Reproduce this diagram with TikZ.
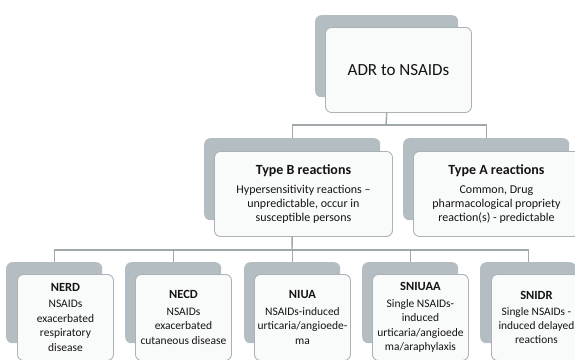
\documentclass[tikz,border=0pt]{standalone}
\usepackage{fontspec}
\setmainfont{Carlito}
\definecolor{gbox}{RGB}{180,189,193}
\definecolor{wfill}{RGB}{249,250,250}
\definecolor{wdraw}{RGB}{170,178,182}
\definecolor{conncol}{RGB}{160,168,172}
\definecolor{txt}{RGB}{20,20,20}
\begin{document}
\begin{tikzpicture}[x=1pt,y=-1pt,
  greybox/.style={fill=gbox, draw=none, rounded corners=6pt, anchor=north west, inner sep=0pt},
  whitebox/.style={fill=wfill, draw=wdraw, line width=0.9pt, rounded corners=6pt, anchor=north west, inner sep=0pt, align=center, text=txt},
  conn/.style={draw=conncol, line width=1.4pt},
  bodysz/.style={font=\fontsize{12}{14}\selectfont},
  smallsz/.style={font=\fontsize{11.5}{14.5}\selectfont}
]
\useasboundingbox (0,0) rectangle (575,359);
% top
\node[greybox, minimum width=143pt, minimum height=82pt] (topg) at (315,15) {};
\node[whitebox, minimum width=146pt, minimum height=85pt, font=\fontsize{17}{20}\selectfont] (topw) at (325,27) {ADR to NSAIDs};
% level 2
\node[greybox, minimum width=176pt, minimum height=82pt] (tbg) at (204,138) {};
\node[whitebox, minimum width=178pt, minimum height=85pt, bodysz] (tbw) at (214,151)
  {{\fontsize{14}{16}\selectfont\bfseries Type B reactions}\\[5pt]Hypersensitivity reactions –\\unpredictable, occur in\\susceptible persons};
\node[greybox, minimum width=166pt, minimum height=82pt] (tag) at (403,138) {};
\node[whitebox, minimum width=166pt, minimum height=85pt, bodysz] (taw) at (413,151)
  {{\fontsize{14}{16}\selectfont\bfseries Type A reactions}\\[5pt]Common, Drug\\pharmacological propriety\\reaction(s) - predictable};
% level 3
\node[greybox, minimum width=96pt, minimum height=81pt] (nerdg) at (6,262) {};
\node[whitebox, minimum width=96pt, minimum height=86pt, smallsz] (nerdw) at (17,274)
  {{\fontsize{12.5}{15}\selectfont\bfseries NERD}\\[2pt]NSAIDs\\exacerbated\\respiratory\\disease};
\node[greybox, minimum width=96pt, minimum height=81pt] (necdg) at (125,262) {};
\node[whitebox, minimum width=96pt, minimum height=86pt, smallsz] (necdw) at (135,274)
  {{\fontsize{12.5}{15}\selectfont\bfseries NECD}\\[2pt]NSAIDs\\exacerbated\\cutaneous disease};
\node[greybox, minimum width=96pt, minimum height=81pt] (niuag) at (244,262) {};
\node[whitebox, minimum width=96pt, minimum height=86pt, smallsz] (niuaw) at (254,274)
  {{\fontsize{12.5}{15}\selectfont\bfseries NIUA}\\[2pt]NSAIDs-induced\\urticaria/angioede-\\ma};
\node[greybox, minimum width=96pt, minimum height=81pt] (sniuaag) at (362,262) {};
\node[whitebox, minimum width=96pt, minimum height=86pt, smallsz] (sniuaaw) at (372,274)
  {{\fontsize{12.5}{15}\selectfont\bfseries SNIUAA}\\[2pt]Single NSAIDs-\\induced\\urticaria/angioede\\ma/araphylaxis};
\node[greybox, minimum width=96pt, minimum height=81pt] (snidrg) at (480,262) {};
\node[whitebox, minimum width=96pt, minimum height=86pt] (snidrw) at (491,274) {};
\node[text=txt, align=center, inner sep=0pt, font=\fontsize{11.4}{14}\selectfont] (snidrt) at ([xshift=-3pt]snidrw.center)
  {{\fontsize{12.5}{15}\selectfont\bfseries SNIDR}\\[2pt]Single NSAIDs -\\induced delayed\\reactions};
% connectors
\coordinate (j1) at (386,125);
\coordinate (j2) at (292,250);
\draw[conn] (topg.south |- topw.south) -- (j1);
\draw[conn] (j1) -| (tbg.north);
\draw[conn] (j1) -| (tag.north);
\draw[conn] (tbg.south |- tbw.south) -- (j2);
\draw[conn] (j2) -| (nerdg.north);
\draw[conn] (j2) -| (necdg.north);
\draw[conn] (j2) -| (niuag.north);
\draw[conn] (j2) -| (sniuaag.north);
\draw[conn] (j2) -| (snidrg.north);
\end{tikzpicture}
\end{document}
